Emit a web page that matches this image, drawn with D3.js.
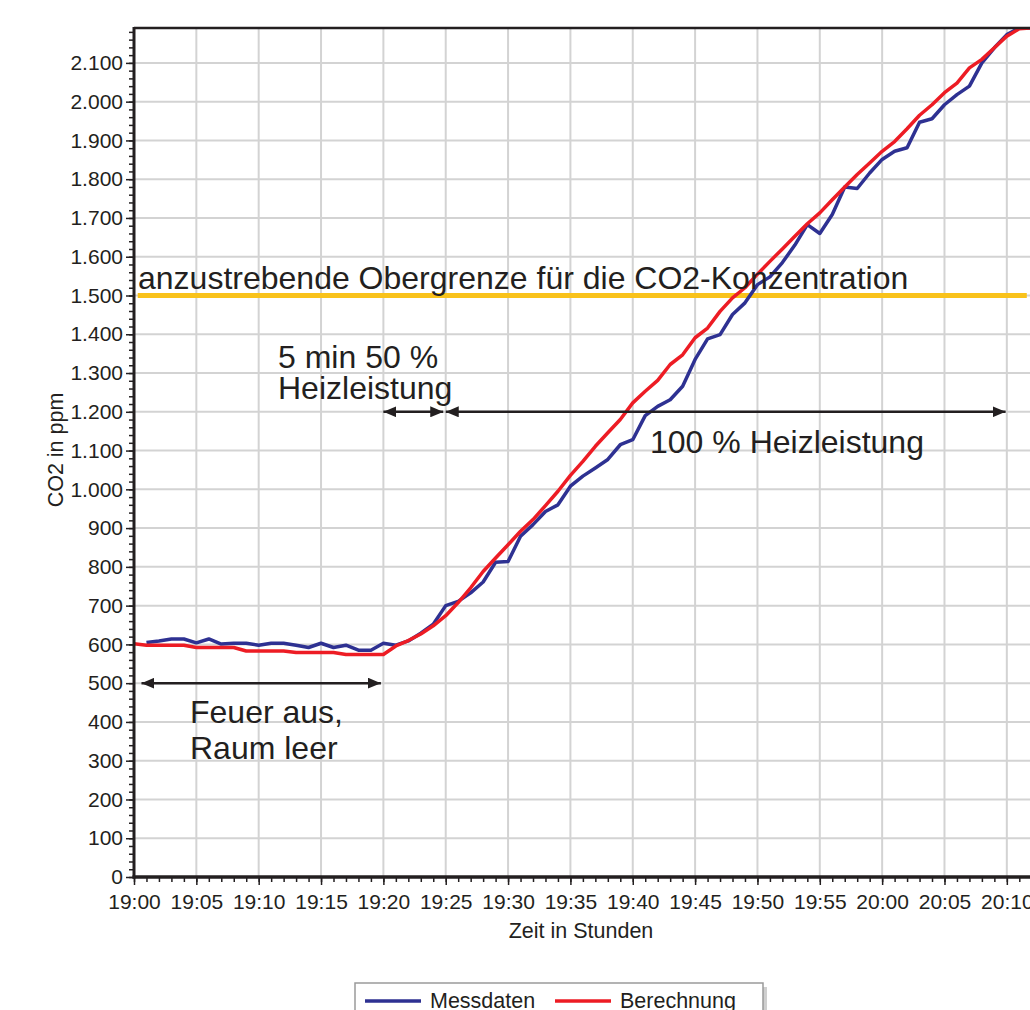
<!DOCTYPE html>
<html>
<head>
<meta charset="utf-8">
<script src="https://cdn.jsdelivr.net/npm/d3@7"></script>
<style>
  body { margin: 0; background: #fff; }
  svg { display: block; font-family: "Liberation Sans", Arial, sans-serif; }
  .grid line { stroke: #d3d3d3; stroke-width: 2; }
  .axis path, .axis line { stroke: #231f20; }
  .axis text { fill: #231f20; font-size: 21px; }
  .note { fill: #231f20; font-size: 32px; }
</style>
</head>
<body>
<script>
// Minutes after 19:00
var messMinutes = d3.range(1, 73);
var messdaten = [605, 609, 614, 614, 604, 614, 601, 603, 603, 598,
                 603, 603, 598, 592, 603, 592, 598, 585, 585, 603,
                 598, 609, 629, 652, 700, 711, 733, 761, 812, 814,
                 879, 909, 943, 960, 1008, 1034, 1055, 1077, 1115, 1128,
                 1190, 1214, 1231, 1266, 1335, 1388, 1399, 1451, 1481, 1528,
                 1548, 1585, 1630, 1683, 1660, 1709, 1780, 1776, 1816, 1851,
                 1872, 1881, 1947, 1956, 1992, 2018, 2040, 2100, 2139, 2173,
                 2190, 2190];

var calcMinutes = d3.range(0, 73);
var berechnung = [602, 598, 598, 598, 598, 592, 592, 592, 592, 583,
                  583, 583, 583, 579, 579, 579, 579, 574, 574, 574,
                  574, 596, 610, 627, 648, 674, 708, 746, 788, 823,
                  857, 892, 922, 958, 995, 1036, 1072, 1111, 1146, 1180,
                  1223, 1253, 1281, 1322, 1347, 1391, 1416, 1459, 1494, 1520,
                  1555, 1588, 1620, 1653, 1685, 1713, 1747, 1780, 1812, 1842,
                  1872, 1897, 1930, 1965, 1992, 2023, 2048, 2087, 2109, 2139,
                  2169, 2188, 2190];

var xTickMinutes = d3.range(0, 71, 5);
var xTickLabels = ["19:00", "19:05", "19:10", "19:15", "19:20", "19:25", "19:30",
                   "19:35", "19:40", "19:45", "19:50", "19:55", "20:00", "20:05", "20:10"];
var yTicks = d3.range(0, 2101, 100);

var seriesNames = ["Messdaten", "Berechnung"];
var seriesColors = ["#2e3192", "#ed1c24"];

var limitValue = 1500;
var limitSpan = [0.3, 71.6];

// arrows: start minute, end minute, ppm level
var arrowFrom = [0.6, 20.0, 25.0];
var arrowTo = [19.8, 24.8, 69.9];
var arrowLevel = [500, 1200, 1200];

var w = 1030;
var h = 1010;
var pLeft = 134, pTop = 28, pBottom = 877, pRight = 1038;

var de = d3.formatLocale({decimal: ",", thousands: ".", grouping: [3], currency: ["", "€"]});
var fmt = de.format(",");

var xScale = d3.scaleLinear().domain([0, 72.5]).range([pLeft, pRight]);
var yScale = d3.scaleLinear().domain([0, 2190]).range([pBottom, pTop]);

var svg = d3.select("body").append("svg")
            .attr("width", w)
            .attr("height", h);

var defs = svg.append("defs");
defs.append("clipPath").attr("id", "plot")
    .append("rect")
    .attr("x", pLeft).attr("y", pTop)
    .attr("width", pRight - pLeft).attr("height", pBottom - pTop);

defs.append("marker")
    .attr("id", "head")
    .attr("viewBox", "0 0 13 11")
    .attr("markerUnits", "userSpaceOnUse")
    .attr("markerWidth", 13).attr("markerHeight", 11)
    .attr("refX", 13).attr("refY", 5.5)
    .attr("orient", "auto-start-reverse")
    .append("path")
    .attr("d", "M0,0L13,5.5L0,11Z")
    .attr("fill", "#231f20");

// grid
svg.append("g").attr("class", "grid")
   .selectAll("line.v")
   .data(xTickMinutes.slice(1))
   .enter().append("line")
   .attr("x1", function(d) { return xScale(d); })
   .attr("x2", function(d) { return xScale(d); })
   .attr("y1", pTop).attr("y2", pBottom);

svg.append("g").attr("class", "grid")
   .selectAll("line.h")
   .data(yTicks.slice(1))
   .enter().append("line")
   .attr("x1", pLeft).attr("x2", pRight)
   .attr("y1", function(d) { return yScale(d); })
   .attr("y2", function(d) { return yScale(d); });

// minor ticks
var yMinor = d3.axisLeft(yScale).tickValues(d3.range(0, 2190, 20)).tickSize(5).tickFormat("");
svg.append("g").attr("class", "axis minor")
   .attr("transform", "translate(" + pLeft + ",0)")
   .call(yMinor)
   .call(function(g) { g.select(".domain").remove(); g.selectAll("line").attr("stroke", "#777").attr("stroke-width", 1.5); });

var xMinor = d3.axisBottom(xScale).tickValues(d3.range(0, 73, 1)).tickSize(5).tickFormat("");
svg.append("g").attr("class", "axis minor")
   .attr("transform", "translate(0," + pBottom + ")")
   .call(xMinor)
   .call(function(g) { g.select(".domain").remove(); g.selectAll("line").attr("stroke", "#555").attr("stroke-width", 1.5); });

// limit line
svg.append("line")
   .attr("x1", xScale(limitSpan[0])).attr("x2", xScale(limitSpan[1]))
   .attr("y1", yScale(limitValue)).attr("y2", yScale(limitValue))
   .attr("stroke", "#f9c21b").attr("stroke-width", 5);

// lines
var line = d3.line()
             .x(function(d) { return xScale(d[0]); })
             .y(function(d) { return yScale(d[1]); });

var plot = svg.append("g").attr("clip-path", "url(#plot)");
plot.append("path")
    .datum(d3.zip(messMinutes, messdaten))
    .attr("fill", "none")
    .attr("stroke", seriesColors[0])
    .attr("stroke-width", 3.5)
    .attr("stroke-linejoin", "round")
    .attr("d", line);
plot.append("path")
    .datum(d3.zip(calcMinutes, berechnung))
    .attr("fill", "none")
    .attr("stroke", seriesColors[1])
    .attr("stroke-width", 3.5)
    .attr("stroke-linejoin", "round")
    .attr("d", line);

// axes
var yAxis = d3.axisLeft(yScale).tickValues(yTicks).tickSize(8).tickPadding(3).tickFormat(fmt);
svg.append("g").attr("class", "axis")
   .attr("transform", "translate(" + pLeft + ",0)")
   .call(yAxis)
   .call(function(g) { g.select(".domain").remove(); g.selectAll("line").attr("stroke-width", 1.5); });

var xAxis = d3.axisBottom(xScale).tickValues(xTickMinutes).tickSize(8).tickPadding(9)
              .tickFormat(function(d, i) { return xTickLabels[i]; });
svg.append("g").attr("class", "axis")
   .attr("transform", "translate(0," + pBottom + ")")
   .call(xAxis)
   .call(function(g) { g.select(".domain").remove(); g.selectAll("line").attr("stroke-width", 1.5); });

// frame
svg.append("line").attr("x1", pLeft).attr("x2", pLeft).attr("y1", pTop - 1).attr("y2", pBottom + 1.5)
   .attr("stroke", "#231f20").attr("stroke-width", 3);
svg.append("line").attr("x1", pLeft - 1.5).attr("x2", pRight).attr("y1", pBottom).attr("y2", pBottom)
   .attr("stroke", "#231f20").attr("stroke-width", 3.5);
svg.append("line").attr("x1", pLeft).attr("x2", pRight).attr("y1", pTop).attr("y2", pTop)
   .attr("stroke", "#231f20").attr("stroke-width", 2.5);

// axis titles
svg.append("text")
   .attr("x", 581).attr("y", 938)
   .attr("text-anchor", "middle").attr("font-size", 21.5).attr("fill", "#231f20")
   .text("Zeit in Stunden");
svg.append("text")
   .attr("transform", "translate(63,450) rotate(-90)")
   .attr("text-anchor", "middle").attr("font-size", 21.5).attr("fill", "#231f20")
   .text("CO2 in ppm");

// arrows
svg.append("g").selectAll("line")
   .data(d3.range(arrowFrom.length))
   .enter().append("line")
   .attr("x1", function(i) { return xScale(arrowFrom[i]); })
   .attr("x2", function(i) { return xScale(arrowTo[i]); })
   .attr("y1", function(i) { return yScale(arrowLevel[i]); })
   .attr("y2", function(i) { return yScale(arrowLevel[i]); })
   .attr("stroke", "#231f20").attr("stroke-width", 2.5)
   .attr("marker-start", "url(#head)")
   .attr("marker-end", "url(#head)");

// notes
svg.append("text").attr("class", "note").attr("x", 138).attr("y", 289)
   .text("anzustrebende Obergrenze für die CO2-Konzentration");
svg.append("text").attr("class", "note").attr("x", 278).attr("y", 368).text("5 min 50 %");
svg.append("text").attr("class", "note").attr("x", 278).attr("y", 399).text("Heizleistung");
svg.append("text").attr("class", "note").attr("x", 650).attr("y", 453).text("100 % Heizleistung");
svg.append("text").attr("class", "note").attr("x", 190).attr("y", 723).text("Feuer aus,");
svg.append("text").attr("class", "note").attr("x", 190).attr("y", 759).text("Raum leer");

// legend
var lg = svg.append("g").attr("transform", "translate(355,983)");
lg.append("rect").attr("x", 4).attr("y", 4).attr("width", 408).attr("height", 50).attr("fill", "#cfcfcf");
lg.append("rect").attr("width", 408).attr("height", 50).attr("fill", "#fff")
  .attr("stroke", "#9a9a9a").attr("stroke-width", 1.5);
var lx = [10, 200];
seriesNames.forEach(function(name, i) {
  lg.append("line").attr("x1", lx[i]).attr("x2", lx[i] + 56).attr("y1", 18).attr("y2", 18)
    .attr("stroke", seriesColors[i]).attr("stroke-width", 3.5);
  lg.append("text").attr("x", lx[i] + 65).attr("y", 25).attr("font-size", 21.5).attr("fill", "#231f20")
    .text(name);
});
</script>
</body>
</html>
